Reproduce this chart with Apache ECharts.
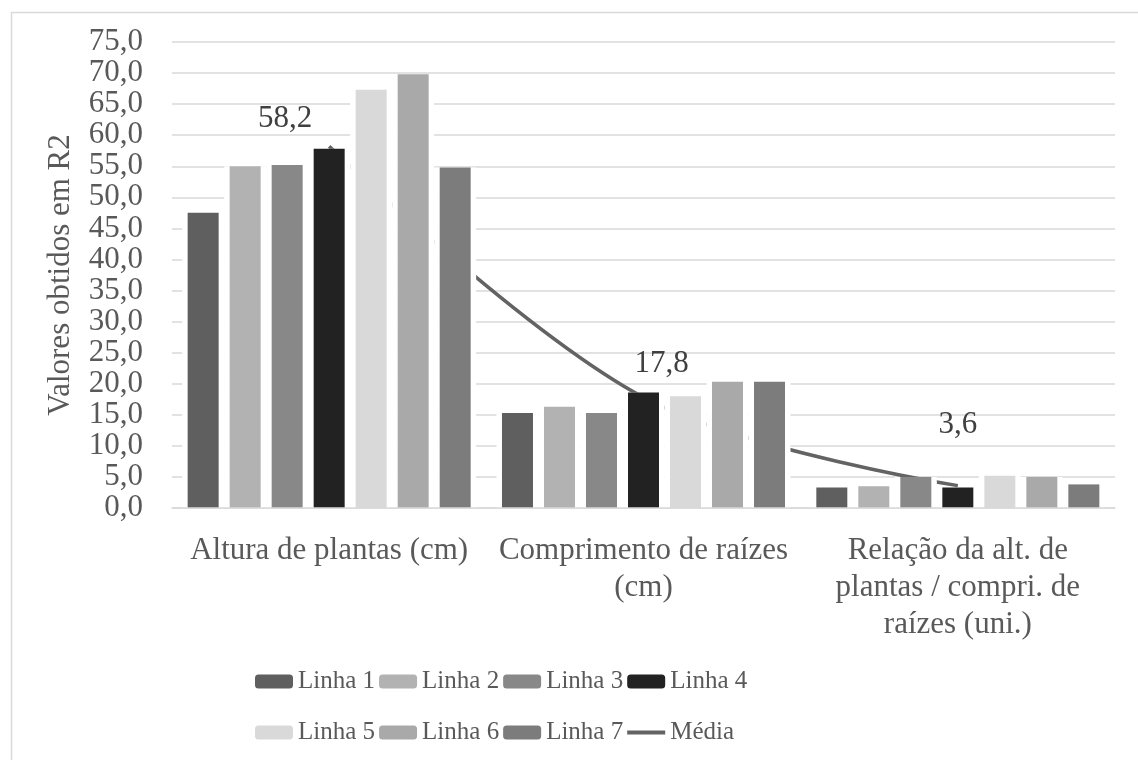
<!DOCTYPE html>
<html>
<head>
<meta charset="utf-8">
<script src="https://cdn.jsdelivr.net/npm/echarts@6/dist/echarts.min.js"></script>
<style>
    html, body { margin: 0; padding: 0; background: #fff; }
    #main { width: 1138px; height: 760px; }
</style>
</head>
<body>
<div id="main"></div>
<script>
    var categories = ['Altura de plantas (cm)', 'Comprimento de raízes\n(cm)', 'Relação da alt. de\nplantas / compri. de\nraízes (uni.)'];
    var seriesNames = ['Linha 1', 'Linha 2', 'Linha 3', 'Linha 4', 'Linha 5', 'Linha 6', 'Linha 7'];
    var linha1 = [47.5, 15.3, 3.3];
    var linha2 = [55.0, 16.3, 3.5];
    var linha3 = [55.2, 15.3, 5.0];
    var linha4 = [57.8, 18.6, 3.3];
    var linha5 = [67.3, 18.0, 5.2];
    var linha6 = [69.8, 20.3, 5.0];
    var linha7 = [54.8, 20.3, 3.8];
    var media = [58.2, 17.8, 3.6];
    var yMin = 0, yMax = 75, yStep = 5;

    var values = [linha1, linha2, linha3, linha4, linha5, linha6, linha7];
    var colors = ['#5f5f5f', '#b2b2b2', '#888888', '#222222', '#d9d9d9', '#a9a9a9', '#7c7c7c'];
    var font = 'Liberation Serif';
    var textColor = '#595959';

    var myChart = echarts.init(document.getElementById('main'));

    function comma(v) {
        return Number(v).toFixed(1).replace('.', ',');
    }

    var series = [];
    // white slots behind the bars (hide gridlines / line in the gaps)
    for (var i = 0; i < values.length; i++) {
        series.push({
            name: seriesNames[i] + ' bg',
            type: 'bar',
            xAxisIndex: 1,
            barWidth: 42,
            barGap: 0,
            z: 3,
            silent: true,
            itemStyle: {color: '#ffffff'},
            data: values[i]
        });
    }
    for (var j = 0; j < values.length; j++) {
        series.push({
            name: seriesNames[j],
            type: 'bar',
            xAxisIndex: 0,
            barWidth: 31,
            barGap: '35.5%',
            z: 4,
            itemStyle: {color: colors[j]},
            data: values[j]
        });
    }

    // offsets of the average labels, as placed in the original
    var labelShift = [[-44, 2], [18, -4], [0, -31]];
    series.push({
        name: 'Média',
        type: 'line',
        xAxisIndex: 0,
        z: 2,
        smooth: 0.35,
        symbol: 'circle',
        symbolSize: 0,
        showSymbol: true,
        lineStyle: {color: '#636363', width: 3.5},
        itemStyle: {color: '#636363'},
        label: {
            show: true,
            position: 'top',
            distance: 14,
            fontFamily: font,
            fontSize: 31,
            color: '#404040',
            formatter: function (p) { return comma(p.value); }
        },
        data: media.map(function (v, k) {
            return {value: v, label: {offset: labelShift[k]}};
        })
    });

    var legendText = {fontFamily: font, fontSize: 25, color: textColor};
    var lineIcon = 'path://M0,0 L38,0 L38,4 L0,4 Z';

    var option = {
        backgroundColor: '#fff',
        animation: false,
        graphic: [{
            type: 'rect',
            left: 9,
            top: 10,
            shape: {width: 1200, height: 800},
            style: {fill: 'none', stroke: '#d9d9d9', lineWidth: 1.5},
            silent: true
        }],
        legend: [{
            data: seriesNames.slice(0, 4),
            left: 255,
            top: 669,
            padding: 0,
            itemWidth: 38,
            itemHeight: 14,
            itemGap: 4,
            textStyle: legendText
        }, {
            data: seriesNames.slice(4).map(function (n) { return {name: n}; })
                .concat([{name: 'Média', icon: lineIcon, itemStyle: {color: '#636363'}}]),
            left: 255,
            top: 720,
            padding: 0,
            itemWidth: 38,
            itemHeight: 14,
            itemGap: 4,
            textStyle: legendText
        }],
        grid: {
            left: 172,
            right: 23,
            top: 42,
            bottom: 252
        },
        xAxis: [{
            type: 'category',
            data: categories,
            z: 6,
            axisTick: {show: false},
            axisLine: {lineStyle: {color: '#d9d9d9', width: 1.5}},
            axisLabel: {
                interval: 0,
                margin: 24,
                lineHeight: 37,
                fontFamily: font,
                fontSize: 31,
                color: textColor
            }
        }, {
            type: 'category',
            data: categories,
            show: false
        }],
        yAxis: {
            type: 'value',
            min: yMin,
            max: yMax,
            interval: yStep,
            name: 'Valores obtidos em R2',
            nameLocation: 'middle',
            nameGap: 96,
            nameTextStyle: {fontFamily: font, fontSize: 31, color: textColor},
            axisLine: {show: false},
            axisTick: {show: false},
            axisLabel: {
                margin: 29,
                fontFamily: font,
                fontSize: 31,
                color: textColor,
                formatter: comma
            },
            splitLine: {lineStyle: {color: '#d9d9d9', width: 1.5}}
        },
        series: series
    };

    myChart.setOption(option);
</script>
</body>
</html>
